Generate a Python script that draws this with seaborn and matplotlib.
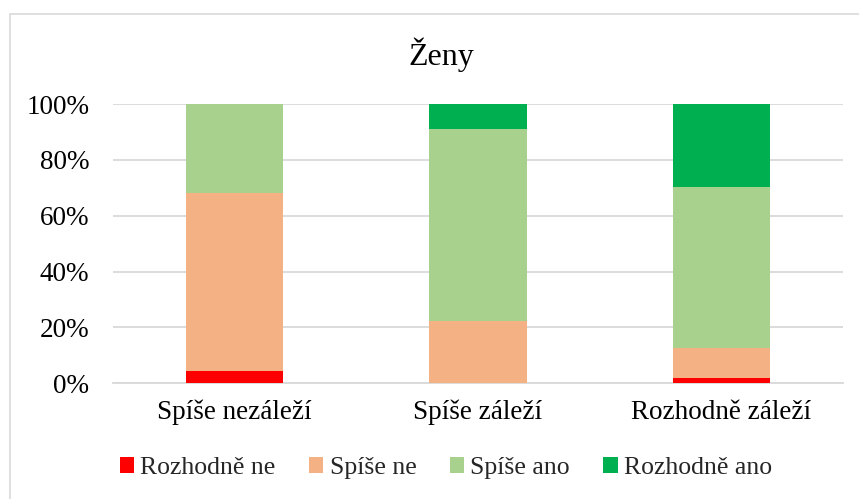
import matplotlib
matplotlib.use("Agg")
import matplotlib.pyplot as plt
from matplotlib.patches import Patch, Rectangle
import numpy as np
import pandas as pd
import seaborn as sns

categories = ["Spíše nezáleží", "Spíše záleží", "Rozhodně záleží"]
series_names = ["Rozhodně ne", "Spíše ne", "Spíše ano", "Rozhodně ano"]
rozhodne_ne = [4.4, 0.0, 2.0]
spise_ne = [63.6, 22.3, 10.7]
spise_ano = [32.0, 68.7, 57.6]
rozhodne_ano = [0.0, 9.0, 29.7]
colors = ["#ff0000", "#f4b183", "#a9d18e", "#00b050"]
y_ticks = [0, 20, 40, 60, 80, 100]
y_tick_labels = ["0%", "20%", "40%", "60%", "80%", "100%"]

sns.set_theme(style="white")
plt.rcParams["font.family"] = ["Liberation Serif", "DejaVu Serif"]

values = [rozhodne_ne, spise_ne, spise_ano, rozhodne_ano]
df = pd.DataFrame({name: vals for name, vals in zip(series_names, values)})
df["kategorie"] = categories
cum = df[series_names].cumsum(axis=1)

fig = plt.figure(figsize=(8.59, 4.99), dpi=100)
fig.patch.set_facecolor("white")
ax = fig.add_axes([112.75 / 859, 1 - 383.3 / 499, 730.5 / 859, 279.3 / 499])

# stacked bars: draw cumulative totals from the top layer down
for name, color in reversed(list(zip(series_names, colors))):
    sns.barplot(x=df["kategorie"], y=cum[name], color=color, width=0.4,
                saturation=1, ax=ax, zorder=3, linewidth=0)

ax.set_ylim(0, 100)
ax.set_xlim(-0.5, 2.5)
ax.set_yticks(y_ticks)
ax.set_yticklabels(y_tick_labels)
ax.yaxis.grid(True, color="#d9d9d9", linewidth=1.3, zorder=0)
ax.set_axisbelow(True)
for side in ["top", "right", "left"]:
    ax.spines[side].set_visible(False)
ax.spines["bottom"].set_color("#d9d9d9")
ax.spines["bottom"].set_linewidth(1.3)
ax.tick_params(axis="both", length=0, labelsize=19.5, colors="black")
ax.tick_params(axis="y", pad=17)
ax.tick_params(axis="x", pad=12)
ax.set_xlabel("")
ax.set_ylabel("")

fig.text(441 / 859, 1 - 55 / 499, "Ženy", ha="center", va="center",
         fontsize=23, color="black")

handles = [Patch(facecolor=c, edgecolor="none", label=n) for n, c in zip(series_names, colors)]
fig.legend(handles=handles, loc="center", bbox_to_anchor=(446 / 859, 1 - 468 / 499),
           ncol=4, frameon=False, fontsize=18.5, handlelength=0.55, handleheight=0.55,
           handletextpad=0.25, columnspacing=1.3, borderaxespad=0)

# chart frame
fig.patches.append(Rectangle((10 / 859, -0.05), 1.0, 1 - 14 / 499 + 0.05,
                             transform=fig.transFigure, fill=False,
                             edgecolor="#d9d9d9", linewidth=1.2, zorder=0))

fig.savefig("out.png", dpi=100, facecolor="white")
